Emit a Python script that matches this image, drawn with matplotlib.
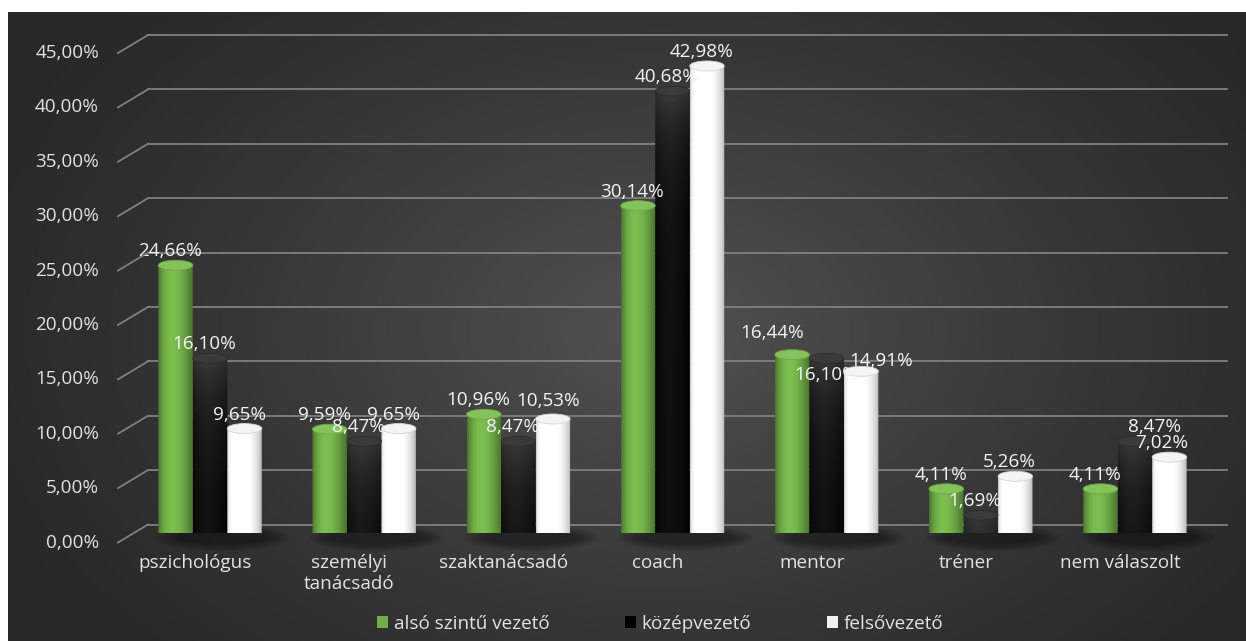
import numpy as np
import matplotlib
matplotlib.use("Agg")
import matplotlib.pyplot as plt
from matplotlib.patches import Ellipse, Patch, Polygon
from matplotlib.transforms import ScaledTranslation, IdentityTransform
from matplotlib.lines import Line2D

# ---------------- data ----------------
categories = ["pszichológus", "személyi\ntanácsadó", "szaktanácsadó", "coach",
              "mentor", "tréner", "nem válaszolt"]
series_names = ["alsó szintű vezető", "középvezető", "felsővezető"]
also_szintu = [24.66, 9.59, 10.96, 30.14, 16.44, 4.11, 4.11]
kozepvezeto = [16.10, 8.47, 8.47, 40.68, 16.10, 1.69, 8.47]
felsovezeto = [9.65, 9.65, 10.53, 42.98, 14.91, 5.26, 7.02]
yticks = [0, 5, 10, 15, 20, 25, 30, 35, 40, 45]
ytick_labels = ["0,00%", "5,00%", "10,00%", "15,00%", "20,00%", "25,00%",
                "30,00%", "35,00%", "40,00%", "45,00%"]

series = [also_szintu, kozepvezeto, felsovezeto]

# label offsets in pixels (style only)
default_off = (-5.5, 14)
label_off = {(4, 0): (-20, 22), (4, 1): (0, -17), (4, 2): (20, 10),
             (2, 2): (-5, 18), (6, 1): (20, 14), (6, 2): (-8, 14)}

FONT = "Open Sans"
FS = 13.6
TXT = "#e2e2e2"
VAL = "#f4f4f4"

W, H = 1246, 641
DPI = 100
fig = plt.figure(figsize=(W / DPI, H / DPI), dpi=DPI)
fig.patch.set_facecolor("white")

# ---------------- background ----------------
bg = fig.add_axes([8 / W, 0, (W - 8) / W, (H - 12) / H])
ny, nx = 320, 640
gy, gx = np.mgrid[0:ny, 0:nx]
px = 8 + gx / (nx - 1) * (W - 8)
py = 12 + gy / (ny - 1) * (H - 12)
r = np.sqrt(((px - 660) / 720) ** 2 + ((py - 330) / 480) ** 2)
c = 0.16 + 0.16 * np.clip(1 - r, 0, 1) ** 1.2
bg.imshow(np.dstack([c, c, c]), aspect="auto", interpolation="bilinear",
          extent=(0, 1, 0, 1))
bg.set_xlim(0, 1); bg.set_ylim(0, 1)
bg.axis("off")

# ---------------- main axes (bar plane) ----------------
x0, x1 = 133, 1212
yb0, yb45 = 533.5, 44
ax = fig.add_axes([x0 / W, (H - yb0) / H, (x1 - x0) / W, (yb0 - yb45) / H])
ax.set_xlim(-0.5, len(categories) - 0.5)
ax.set_ylim(0, 45)
ax.axis("off")
ax.patch.set_alpha(0)

px_per_y = (yb0 - yb45) / 45
px_per_x = (x1 - x0) / len(categories)
DX, DY = 15, 9  # perspective shift in px
back = ax.transData + ScaledTranslation(DX / DPI, DY / DPI, fig.dpi_scale_trans)
front = ax.transData + ScaledTranslation(-DX / DPI, -DY / DPI, fig.dpi_scale_trans)

grid_col = "#808080"
for v, lab in zip(yticks, ytick_labels):
    ax.plot([-0.5, len(categories) - 0.5], [v, v], transform=back, color=grid_col,
            lw=1.3, clip_on=False, zorder=1)
    bx, by = back.transform((-0.5, v))
    fx, fy = front.transform((-0.5, v))
    fig.add_artist(Line2D([bx, fx], [by, fy], transform=IdentityTransform(),
                          color=grid_col, lw=1.3, zorder=1))
    ax.text(-0.5, v, lab, transform=front + ScaledTranslation(-19 / DPI, 0, fig.dpi_scale_trans),
            ha="right", va="center", color=TXT, fontsize=FS, family=FONT, clip_on=False)

for i, cat in enumerate(categories):
    ax.text(i, 0, cat, transform=front + ScaledTranslation(0, -11 / DPI, fig.dpi_scale_trans),
            ha="center", va="top", color=TXT, fontsize=FS, family=FONT,
            linespacing=1.25, clip_on=False)

# ---------------- cylinders ----------------
bw = 34.5 / px_per_x
eh = 10 / px_per_y


def body_rgb(j, v, nyb=120, nxb=60):
    t = np.linspace(0, 1, nxb)
    s = np.sin(np.pi * t ** 0.8)
    yv = np.linspace(v, -eh / 2, nyb)[:, None]
    if j == 0:
        base = np.array([0.44, 0.68, 0.28])
        f = 0.66 + 0.44 * s
        img = np.clip(base[None, None, :] * f[None, :, None], 0, 1)
        img = np.repeat(img, nyb, axis=0)
    elif j == 1:
        val = 0.01 + 0.05 * s[None, :] + 0.17 * np.exp(-(v - yv) / 5.0)
        img = np.dstack([val, val, val])
    else:
        val = 0.66 + 0.34 * np.sqrt(s) + 0.10 * (1 - t)
        val = np.clip(val, 0, 1)
        img = np.repeat(np.dstack([val, val, val]), nyb, axis=0)
    return np.clip(img, 0, 1)


top_col = ["#84c25c", "#3a3a3a", "#f4f4f4"]
top_edge = ["#6aa845", "#2c2c2c", "#d4d4d4"]

# soft floor shadows
for i in range(len(categories)):
    for k in range(6):
        ax.add_patch(Ellipse((i + 0.08, -0.4), 0.62 + 0.05 * k, 1.2 + 0.25 * k,
                             facecolor="black", edgecolor="none", alpha=0.07,
                             zorder=2, clip_on=False))

for j, vals in enumerate(series):
    for i, v in enumerate(vals):
        xc = i + (j - 1) * bw
        xl, xr = xc - bw / 2, xc + bw / 2
        th = np.linspace(np.pi, 2 * np.pi, 40)
        arc = np.column_stack([xc + bw / 2 * np.cos(th), eh / 2 * np.sin(th)])
        pts = np.vstack([[[xl, v]], arc, [[xr, v]]])
        poly = Polygon(pts, closed=True, transform=ax.transData, facecolor="none",
                       edgecolor="none")
        ax.add_patch(poly)
        im = ax.imshow(body_rgb(j, v), extent=(xl, xr, -eh / 2, v), aspect="auto",
                       interpolation="bilinear", zorder=3 + j * 0.01)
        im.set_clip_path(poly)
        ax.add_patch(Ellipse((xc, v), bw, eh, facecolor=top_col[j], edgecolor=top_edge[j],
                             lw=0.6, zorder=3.5 + j * 0.01))
        txt = f"{v:.2f}".replace(".", ",") + "%"
        off = label_off.get((i, j), default_off)
        ax.annotate(txt, (xc, v), xytext=off, textcoords="offset pixels",
                    ha="center", va="center", color=VAL, fontsize=FS, family=FONT,
                    zorder=6, annotation_clip=False)

ax.set_xlim(-0.5, len(categories) - 0.5)
ax.set_ylim(0, 45)

# ---------------- legend ----------------
handles = [Patch(facecolor="#70ad47", edgecolor="none"),
           Patch(facecolor="#000000", edgecolor="none"),
           Patch(facecolor="#f2f2f2", edgecolor="none")]
leg = fig.legend(handles, series_names, loc="center", bbox_to_anchor=(660 / W, (H - 624) / H),
                 ncol=3, frameon=False, handlelength=0.6, handleheight=0.6,
                 handletextpad=0.3, columnspacing=4.0,
                 prop={"family": FONT, "size": FS})
for t in leg.get_texts():
    t.set_color(TXT)

fig.savefig("out.png", dpi=DPI, facecolor=fig.get_facecolor())
